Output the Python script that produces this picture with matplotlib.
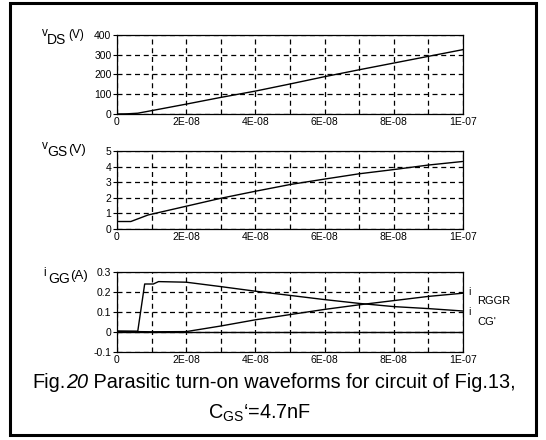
import matplotlib
matplotlib.use("Agg")
import matplotlib.pyplot as plt
from matplotlib.patches import Rectangle
from matplotlib.ticker import FixedLocator

plt.rcParams['font.family'] = ['Liberation Sans', 'DejaVu Sans']
plt.rcParams['mathtext.fontset'] = 'custom'
plt.rcParams['mathtext.rm'] = 'Liberation Sans'
plt.rcParams['mathtext.it'] = 'Liberation Sans:italic'

# ---- data ----
t_vds = [0, 0.3e-8, 0.6e-8, 1e-8, 2e-8, 3e-8, 4e-8, 5e-8, 6e-8, 7e-8, 8e-8, 9e-8, 1e-7]
vds = [0, 1, 4, 17, 50, 84, 116, 152, 189, 224, 258, 292, 326]

t_vgs = [0, 0.4e-8, 0.9e-8, 1e-8, 2e-8, 3e-8, 4e-8, 5e-8, 6e-8, 7e-8, 8e-8, 9e-8, 1e-7]
vgs = [0.48, 0.48, 0.9, 0.95, 1.46, 1.97, 2.42, 2.85, 3.2, 3.54, 3.81, 4.1, 4.33]

t_icg = [0, 0.6e-8, 0.8e-8, 1.05e-8, 1.2e-8, 2e-8, 3e-8, 4e-8, 5e-8, 6e-8, 7e-8, 8e-8, 9e-8, 1e-7]
icg = [0.004, 0.004, 0.24, 0.24, 0.252, 0.249, 0.227, 0.204, 0.183, 0.162, 0.143, 0.127, 0.117, 0.105]

t_irggr = [0, 0.6e-8, 1e-8, 2e-8, 3e-8, 4e-8, 5e-8, 6e-8, 7e-8, 8e-8, 9e-8, 1e-7]
irggr = [0.004, 0.002, 0.001, 0.002, 0.03, 0.061, 0.087, 0.113, 0.136, 0.157, 0.178, 0.194]

xticks = [0, 2e-8, 4e-8, 6e-8, 8e-8, 1e-7]
xticklabels = ['0', '2E-08', '4E-08', '6E-08', '8E-08', '1E-07']
xgrid = [1e-8, 3e-8, 5e-8, 7e-8, 9e-8]

W, H = 546, 440
fig = plt.figure(figsize=(W / 100, H / 100), dpi=100)
renderer = fig.canvas.get_renderer()


def px_axes(left, top, right, bottom):
    return fig.add_axes([left / W, 1 - bottom / H, (right - left) / W, (bottom - top) / H])


def ftext(x, y, s, size, **kw):
    return fig.text(x / W, 1 - y / H, s, fontsize=size, va='baseline', ha=kw.pop('ha', 'left'), **kw)


def style(ax, ylim, yticks, yticklabels):
    ax.set_xlim(0, 1e-7)
    ax.set_ylim(*ylim)
    ax.xaxis.set_major_locator(FixedLocator(xticks))
    ax.xaxis.set_minor_locator(FixedLocator(xgrid))
    ax.set_xticklabels(xticklabels)
    ax.set_yticks(yticks)
    ax.set_yticklabels(yticklabels)
    ax.tick_params(axis='x', which='both', length=0, labelsize=7.5, pad=2)
    ax.tick_params(axis='y', length=3, width=0.8, labelsize=7.5, pad=1)
    ax.grid(True, which='both', axis='x', color='black', linestyle=(0, (4, 3)), linewidth=0.9)
    ax.grid(True, which='major', axis='y', color='black', linestyle=(0, (4, 3)), linewidth=0.9)
    for s in ax.spines.values():
        s.set_linewidth(0.9)


ax1 = px_axes(117, 35, 463, 114)
ax1.plot(t_vds, vds, color='black', linewidth=1.0)
style(ax1, (0, 400), [0, 100, 200, 300, 400], ['0', '100', '200', '300', '400'])

ax2 = px_axes(117, 151, 463, 229)
ax2.plot(t_vgs, vgs, color='black', linewidth=1.0)
style(ax2, (0, 5), [0, 1, 2, 3, 4, 5], ['0', '1', '2', '3', '4', '5'])

ax3 = px_axes(117, 272, 463, 352)
ax3.plot(t_icg, icg, color='black', linewidth=1.0)
ax3.plot(t_irggr, irggr, color='black', linewidth=1.0)
ax3.axhline(0, color='black', linewidth=1.0)
style(ax3, (-0.1, 0.3), [-0.1, 0, 0.1, 0.2, 0.3], ['-0.1', '0', '0.1', '0.2', '0.3'])

# y-axis labels
ftext(42, 36, 'v', 8.5)
ftext(47, 44, 'DS', 10)
ftext(68, 38, '(V)', 8.5)

ftext(42, 149, 'v', 8.5)
ftext(47, 156, 'GS', 10)
ftext(68, 153, '(V)', 9.5)

ftext(43, 276, 'i', 8.5)
ftext(48, 283, 'GG', 10)
ftext(70, 279, '(A)', 9.5)

# right labels
ftext(468, 295, 'i', 7.5)
ftext(477, 304, 'RGGR', 8)
ftext(468, 315, 'i', 7.5)
ftext(477, 325, 'CG\'', 8)

# caption line 1 built from pieces (italic "20")
pieces = [('Fig.', 'normal'), ('20', 'italic'), (' Parasitic turn-on waveforms for circuit of Fig.13,', 'normal')]
cap_size = 14.3
texts = [fig.text(0, 0, s, fontsize=cap_size, style=st, va='baseline') for s, st in pieces]
widths = [t.get_window_extent(renderer).width for t in texts]
total = sum(widths)
x0 = 274 - total / 2
for t, w in zip(texts, widths):
    t.set_position((x0 / W, 1 - 388 / H))
    x0 += w

ftext(260, 419, r'C$_{\mathrm{GS}}$‘=4.7nF', cap_size, ha='center')

# border
fig.patches.append(Rectangle((10 / W, 1 - 435 / H), 526 / W, 432 / H, transform=fig.transFigure,
                             fill=False, edgecolor='black', linewidth=2.2))

fig.savefig('out.png', dpi=100)
